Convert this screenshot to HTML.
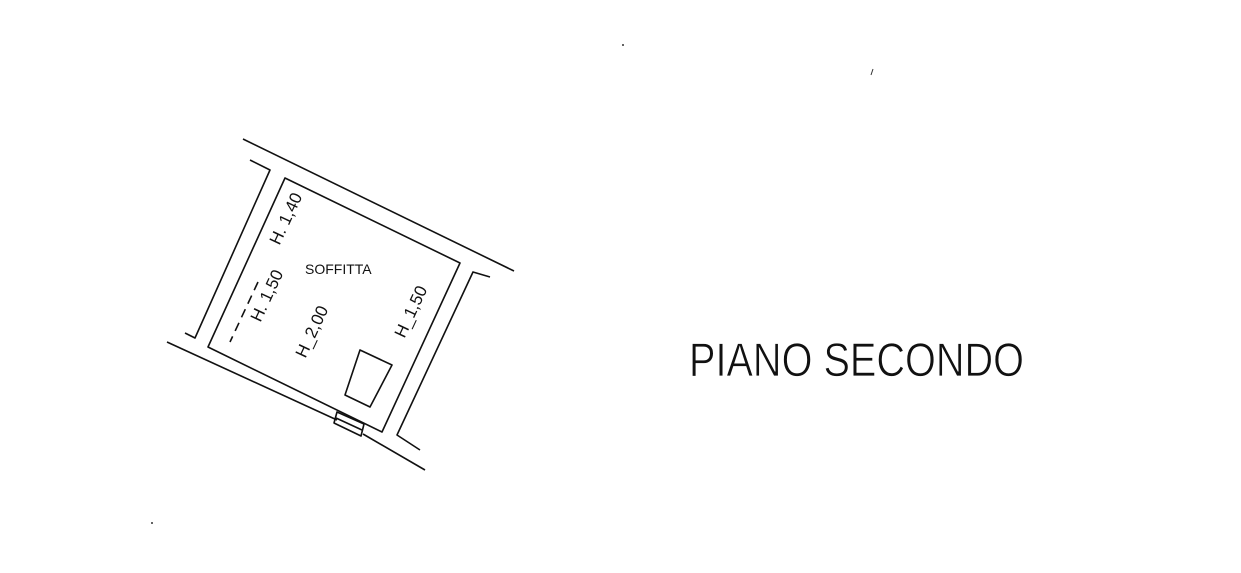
<!DOCTYPE html>
<html><head><meta charset="utf-8"><style>
html,body{margin:0;padding:0;background:#fff;}
svg{display:block;}
text{font-family:"Liberation Sans",sans-serif;fill:#111;}
</style></head><body>
<svg width="1241" height="573" viewBox="0 0 1241 573" xmlns="http://www.w3.org/2000/svg">
<g fill="none" stroke="#111" stroke-width="1.6" stroke-linejoin="round">
<line x1="243" y1="139" x2="514" y2="271"/>
<polyline points="250,160 270,170 195,338 185,333"/>
<polygon points="285,178 460,263 382,432 208,347"/>
<line x1="167" y1="342" x2="337" y2="420"/>
<line x1="363" y1="434" x2="425" y2="470"/>
<polygon points="337,412 364,424 361,436 334,423"/>
<line x1="336" y1="418" x2="362" y2="430"/>
<polyline points="490,277 473,272 397,435 420,450"/>
<polygon points="360,350 392,365 370,407 345,395"/>
<line x1="258" y1="282" x2="230" y2="342" stroke-dasharray="9,6"/>
</g>
<text x="305" y="274" font-size="14">SOFFITTA</text>
<text transform="translate(291,221) rotate(-65)" font-size="17" text-anchor="middle">H. 1,40</text>
<text transform="translate(272,298) rotate(-65)" font-size="17" text-anchor="middle">H. 1,50</text>
<text transform="translate(317,334) rotate(-65)" font-size="17" text-anchor="middle">H_2,00</text>
<text transform="translate(416,314) rotate(-65)" font-size="17" text-anchor="middle">H_1,50</text>
<text x="689" y="376" font-size="47" textLength="335" lengthAdjust="spacingAndGlyphs" fill="#333" stroke="#fff" stroke-width="0.8" paint-order="normal">PIANO SECONDO</text>
<circle cx="623" cy="45" r="1" fill="#333"/>
<line x1="871" y1="75" x2="873" y2="69" stroke="#333" stroke-width="1"/>
<circle cx="152" cy="523" r="1" fill="#333"/>
</svg>
</body></html>
